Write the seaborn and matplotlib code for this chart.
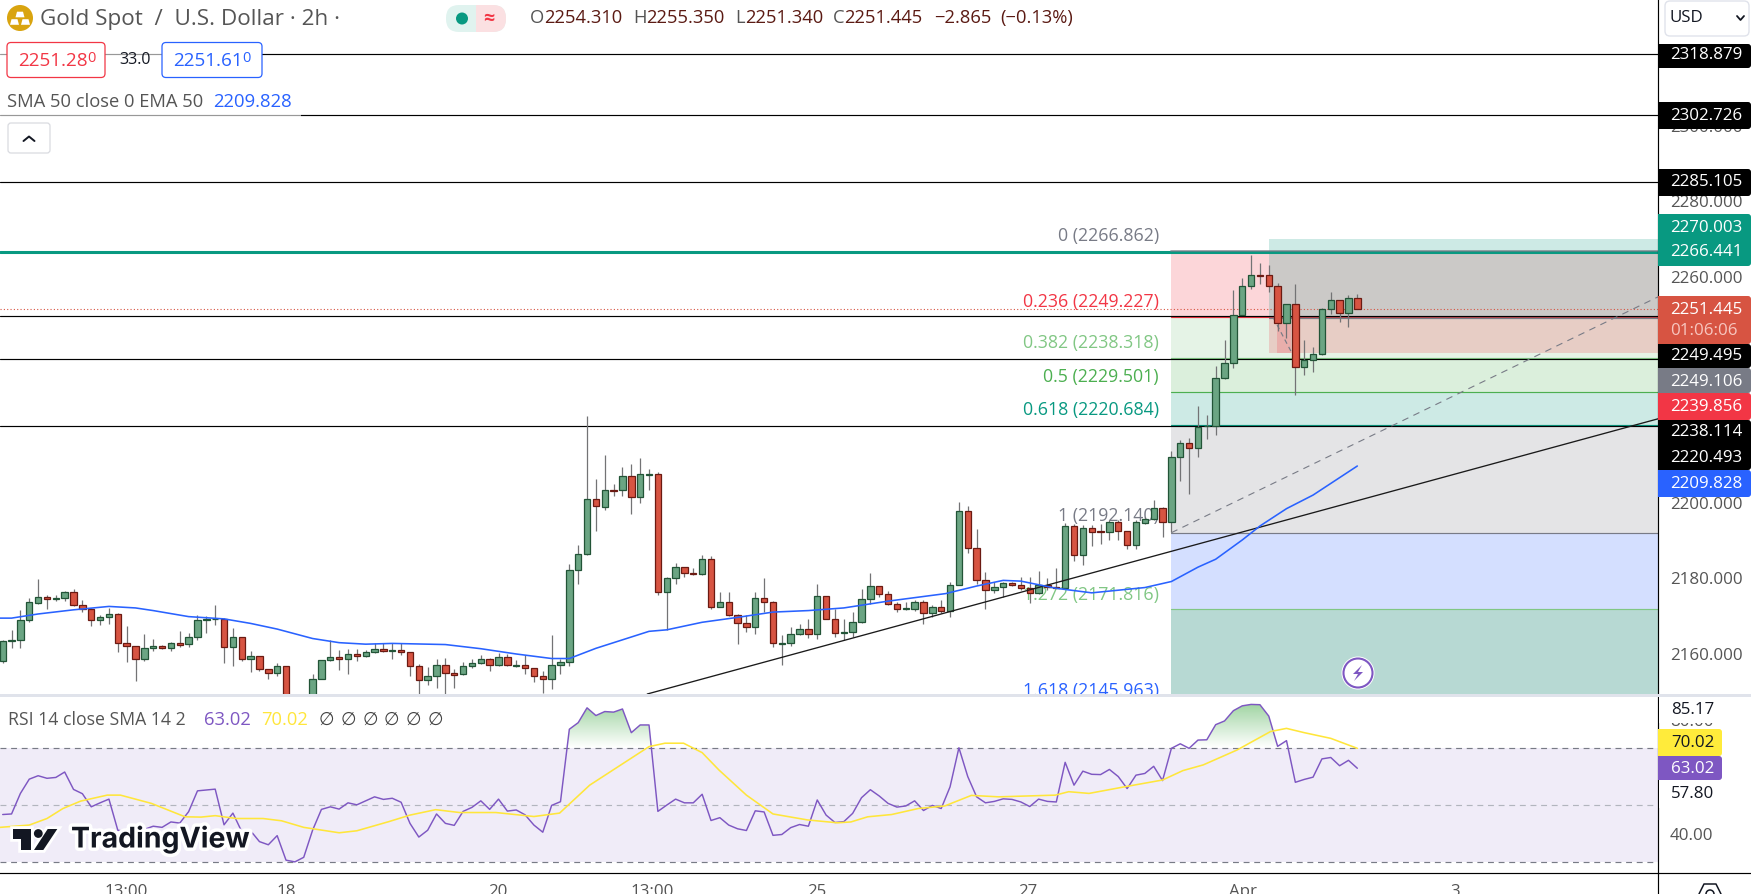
"""Gold Spot / U.S. Dollar 2h chart with fib levels, position tool and RSI pane."""

import numpy as np
import pandas as pd

import matplotlib
matplotlib.use("Agg")
import matplotlib.pyplot as plt
import matplotlib.patheffects as pe
from matplotlib.patches import Circle, FancyBboxPatch, PathPatch, Polygon, Rectangle
from matplotlib.path import Path
import seaborn as sns

# ── candles (price) ───────────────────────────────────────────────────
opens = [
    2158.2, 2163.5, 2163.6, 2168.9, 2173.6, 2175.0, 2174.5, 2174.7, 2176.3, 2172.9,
    2171.8, 2168.9, 2169.7, 2170.5, 2162.8, 2162.0, 2158.6, 2161.5, 2162.0, 2161.5,
    2162.8, 2162.6, 2164.4, 2169.1, 2169.3, 2169.4, 2161.8, 2164.4, 2158.8, 2159.4,
    2155.9, 2155.0, 2156.7, 2142.0, 2140.0, 2145.0, 2153.5, 2158.3, 2159.1, 2158.6,
    2159.9, 2159.4, 2160.4, 2161.2, 2160.9, 2161.0, 2160.4, 2156.7, 2153.0, 2154.1,
    2157.0, 2154.9, 2154.6, 2156.7, 2157.5, 2158.8, 2157.2, 2159.1, 2156.8, 2157.0,
    2156.2, 2154.3, 2153.3, 2157.0, 2157.8, 2182.2, 2186.4, 2201.0, 2199.0, 2203.5,
    2203.4, 2207.1, 2201.5, 2207.5, 2207.6, 2176.5, 2180.0, 2183.0, 2181.5, 2181.2,
    2185.1, 2172.5, 2173.7, 2170.2, 2168.1, 2167.2, 2174.7, 2173.9, 2162.7, 2163.0,
    2165.2, 2166.5, 2165.4, 2175.3, 2169.4, 2165.6, 2165.7, 2168.6, 2174.5, 2177.9,
    2175.8, 2173.2, 2171.8, 2172.0, 2173.9, 2170.8, 2172.4, 2171.5, 2178.4, 2197.8,
    2188.0, 2179.5, 2176.9, 2177.7, 2178.7, 2178.4, 2177.4, 2176.1, 2178.4, 2177.8,
    2177.4, 2193.8, 2186.1, 2193.5, 2192.6, 2192.4, 2194.9, 2192.5, 2189.0, 2194.8,
    2195.7, 2198.8, 2194.9, 2212.1, 2215.8, 2214.5, 2220.3, 2220.5, 2233.0, 2237.0,
    2249.9, 2257.4, 2260.4, 2260.3, 2257.4, 2247.8, 2252.6, 2235.9, 2238.0, 2239.4,
    2251.5, 2253.7, 2250.2, 2254.31,
]
highs = [
    2163.7, 2166.4, 2171.6, 2174.7, 2179.9, 2175.5, 2175.5, 2176.7, 2177.2, 2174.3,
    2172.1, 2170.3, 2172.2, 2170.8, 2167.4, 2162.2, 2165.3, 2164.0, 2162.5, 2163.1,
    2166.1, 2165.5, 2170.2, 2170.1, 2173.0, 2169.5, 2166.8, 2164.5, 2160.7, 2159.5,
    2156.1, 2157.5, 2156.8, 2146.0, 2147.0, 2154.7, 2158.4, 2163.7, 2161.0, 2161.3,
    2161.3, 2161.0, 2162.8, 2162.8, 2162.8, 2162.8, 2160.5, 2157.3, 2156.6, 2158.6,
    2158.9, 2155.9, 2157.9, 2158.6, 2159.6, 2158.9, 2160.2, 2160.0, 2158.4, 2159.6,
    2156.3, 2155.4, 2165.0, 2158.8, 2183.8, 2188.9, 2223.0, 2206.4, 2212.7, 2205.0,
    2209.6, 2210.2, 2211.8, 2209.0, 2208.2, 2180.5, 2184.0, 2183.1, 2182.9, 2186.2,
    2186.0, 2176.4, 2176.4, 2170.5, 2170.3, 2176.4, 2180.1, 2174.0, 2165.0, 2167.2,
    2167.9, 2169.4, 2178.5, 2175.4, 2171.8, 2169.3, 2171.1, 2177.1, 2181.5, 2178.0,
    2176.6, 2173.9, 2173.9, 2174.3, 2174.3, 2173.0, 2174.3, 2179.2, 2200.3, 2199.2,
    2193.1, 2181.6, 2179.2, 2179.2, 2179.1, 2180.3, 2180.3, 2182.0, 2180.0, 2182.9,
    2194.6, 2194.4, 2194.2, 2194.2, 2194.4, 2195.5, 2195.5, 2192.6, 2195.5, 2196.2,
    2200.8, 2198.9, 2213.8, 2216.7, 2217.1, 2225.7, 2223.3, 2236.3, 2243.2, 2256.4,
    2259.5, 2265.7, 2263.6, 2263.0, 2258.4, 2252.7, 2257.9, 2243.3, 2241.2, 2251.6,
    2255.8, 2253.8, 2255.0, 2255.35,
]
lows = [
    2157.7, 2161.7, 2161.7, 2168.6, 2173.3, 2171.9, 2174.1, 2174.1, 2172.8, 2171.1,
    2167.4, 2167.8, 2167.9, 2160.6, 2158.0, 2152.9, 2158.2, 2160.9, 2161.2, 2160.9,
    2161.9, 2161.9, 2163.7, 2165.6, 2167.8, 2157.7, 2156.9, 2158.2, 2155.3, 2155.6,
    2153.4, 2154.3, 2140.0, 2138.0, 2137.0, 2143.0, 2153.4, 2158.2, 2155.8, 2154.7,
    2158.2, 2159.3, 2160.3, 2160.5, 2158.8, 2159.8, 2154.2, 2149.1, 2151.8, 2151.0,
    2149.4, 2151.0, 2154.4, 2156.4, 2157.3, 2155.6, 2156.9, 2156.9, 2156.5, 2154.7,
    2152.6, 2149.7, 2150.8, 2154.7, 2156.9, 2178.5, 2186.3, 2192.7, 2198.1, 2201.8,
    2201.8, 2197.2, 2200.1, 2203.4, 2175.7, 2166.4, 2178.5, 2180.5, 2180.9, 2180.9,
    2172.0, 2172.4, 2170.0, 2162.7, 2165.9, 2165.4, 2171.2, 2161.9, 2157.1, 2162.1,
    2165.1, 2164.3, 2164.0, 2169.2, 2164.6, 2163.7, 2164.4, 2168.3, 2173.2, 2175.2,
    2173.0, 2171.0, 2171.6, 2171.5, 2167.9, 2169.9, 2170.8, 2169.8, 2178.3, 2186.8,
    2178.5, 2172.0, 2176.2, 2175.2, 2178.1, 2177.0, 2173.6, 2175.9, 2177.0, 2177.4,
    2177.2, 2184.7, 2183.7, 2188.7, 2189.1, 2190.2, 2190.2, 2187.7, 2187.7, 2194.4,
    2195.5, 2191.1, 2192.4, 2205.9, 2202.5, 2212.3, 2216.9, 2218.1, 2232.9, 2235.8,
    2249.8, 2256.7, 2258.0, 2256.0, 2245.5, 2243.8, 2228.7, 2234.0, 2234.7, 2239.2,
    2250.0, 2248.0, 2246.7, 2251.34,
]
closes = [
    2163.4, 2163.7, 2168.9, 2173.7, 2175.0, 2174.5, 2174.7, 2176.3, 2172.9, 2171.8,
    2168.9, 2169.7, 2170.5, 2162.8, 2162.0, 2158.6, 2161.5, 2162.0, 2161.5, 2162.8,
    2162.5, 2164.4, 2168.9, 2169.3, 2169.4, 2161.8, 2164.4, 2158.8, 2159.4, 2155.9,
    2155.0, 2156.7, 2142.0, 2140.0, 2145.0, 2153.5, 2158.3, 2159.1, 2158.6, 2159.9,
    2159.4, 2160.4, 2161.2, 2160.7, 2161.1, 2160.4, 2156.7, 2153.0, 2154.1, 2157.0,
    2154.9, 2154.5, 2156.7, 2157.5, 2158.8, 2157.2, 2159.1, 2157.0, 2157.0, 2156.2,
    2154.3, 2153.3, 2157.0, 2157.8, 2182.2, 2186.4, 2201.0, 2199.1, 2203.4, 2203.3,
    2207.1, 2201.5, 2207.6, 2207.6, 2176.5, 2180.0, 2183.0, 2181.4, 2181.3, 2185.1,
    2172.5, 2173.7, 2170.2, 2168.1, 2167.2, 2174.7, 2173.9, 2162.8, 2163.0, 2165.2,
    2166.5, 2165.4, 2175.3, 2169.4, 2165.5, 2165.8, 2168.6, 2174.5, 2177.9, 2175.8,
    2173.2, 2171.8, 2172.1, 2173.9, 2170.8, 2172.4, 2171.5, 2178.4, 2197.8, 2188.0,
    2179.5, 2176.9, 2177.7, 2178.7, 2178.4, 2177.4, 2176.1, 2178.4, 2177.7, 2177.5,
    2193.8, 2186.1, 2193.5, 2192.4, 2192.4, 2194.9, 2192.5, 2189.0, 2194.9, 2195.7,
    2198.8, 2194.9, 2212.1, 2215.8, 2214.5, 2220.2, 2220.5, 2233.0, 2237.0, 2249.9,
    2257.4, 2260.3, 2260.2, 2257.4, 2247.8, 2252.6, 2235.9, 2238.0, 2239.4, 2251.5,
    2253.7, 2250.2, 2254.2, 2251.445,
]

# EMA 50, read at the points where the curve bends
ema_bars = [-0.3, 1, 4, 8, 12, 15, 17, 21, 25, 28, 31, 35, 38, 41, 44, 50, 54, 58, 62, 64,
            67, 73, 75, 79, 83, 87, 91, 95, 100, 106.5, 110, 113, 115, 119, 123, 129,
            132, 135, 137, 140, 142, 145, 148, 153]
ema_vals = [2169.5, 2169.5, 2170.6, 2171.7, 2172.6, 2172.2, 2171.5, 2169.9, 2169.3, 2168.1,
            2166.6, 2164.1, 2163.0, 2162.6, 2162.8, 2162.5, 2161.4, 2160.0, 2158.8, 2158.8,
            2161.5, 2166.0, 2166.4, 2168.4, 2169.7, 2171.1, 2171.5, 2172.2, 2174.0, 2176.0,
            2178.0, 2179.5, 2179.3, 2177.4, 2176.2, 2177.6, 2179.2, 2183.0, 2185.1, 2190.2,
            2193.9, 2198.5, 2202.1, 2209.8]

# RSI per bar, and its SMA at the bends
rsi_vals = [
    46.8, 47.0, 54.2, 59.2, 60.4, 59.5, 59.8, 61.7, 55.6, 54.1,
    49.5, 50.9, 52.2, 41.3, 40.8, 40.8, 41.6, 42.7, 42.3, 44.2,
    43.8, 47.8, 55.1, 55.4, 55.7, 43.2, 47.3, 40.8, 41.1, 37.3,
    36.2, 39.4, 30.8, 30.2, 31.8, 41.3, 48.6, 49.5, 48.7, 50.9,
    50.2, 51.6, 53.0, 52.1, 52.5, 51.1, 43.7, 38.9, 41.3, 47.0,
    43.7, 43.0, 47.9, 49.3, 51.6, 48.6, 52.2, 48.0, 48.4, 46.7,
    43.1, 40.6, 50.0, 51.3, 76.7, 79.0, 84.2, 81.5, 82.9, 82.7,
    83.8, 75.5, 78.2, 78.2, 47.9, 50.1, 52.2, 50.9, 50.9, 53.9,
    44.7, 45.7, 43.1, 41.8, 41.2, 48.1, 47.7, 39.5, 39.8, 42.2,
    43.3, 42.7, 51.9, 46.6, 44.0, 44.3, 47.2, 52.7, 55.5, 53.3,
    50.7, 49.4, 49.8, 51.6, 48.2, 50.0, 48.9, 56.5, 70.2, 60.1,
    53.0, 50.9, 51.4, 52.3, 52.1, 51.2, 49.6, 52.2, 51.4, 51.2,
    65.1, 57.1, 62.0, 60.9, 60.8, 62.6, 60.1, 55.9, 60.6, 61.2,
    63.7, 58.7, 70.0, 71.6, 70.0, 72.9, 73.0, 78.3, 79.6, 83.2,
    84.9, 85.4, 85.3, 81.3, 70.7, 72.7, 58.1, 59.1, 59.9, 66.3,
    66.8, 63.9, 65.8, 63.02,
]
sma_bars = [-0.3, 3, 5, 6.8, 8.8, 11.8, 13.3, 16.8, 20.6, 22.4, 24, 26.4, 29.4, 31.5, 34,
            38, 40, 43.6, 46, 48.9, 51.6, 55.7, 60, 62.9, 66.3, 73, 74.8, 76.9, 79, 80.9,
            84, 87, 90.9, 94.3, 95.8, 97.7, 100.4, 103.4, 106.4, 109.4, 112.5, 118.9,
            120.4, 122.7, 126.5, 131, 133.3, 135.6, 139.4, 143.2, 145, 147, 150, 153]
sma_vals = [42.3, 43.1, 45.4, 48.9, 51.5, 53.6, 53.6, 50.7, 46.0, 45.9, 46.4, 45.4, 45.4,
            44.6, 42.3, 40.4, 41.1, 44.3, 46.6, 48.5, 47.5, 47.5, 46.1, 47.3, 57.1, 70.6,
            71.8, 71.8, 68.5, 62.4, 53.6, 47.0, 44.9, 43.9, 44.2, 46.0, 46.8, 48.9, 49.8,
            53.5, 53.0, 53.6, 54.8, 54.2, 56.4, 58.9, 62.2, 64.2, 69.4, 75.9, 77.0, 75.5,
            73.5, 70.0]

# drawn levels
black_levels = [2318.879, 2302.726, 2285.105, 2249.495, 2238.114, 2220.493]
teal_level = 2266.441
last_price = 2251.445
pos_top, pos_entry, pos_stop = 2270.003, 2249.106, 2239.856
trend_bars, trend_prices = [72.8, 186.96], [2149.4, 2222.3]
diag_bars, diag_prices = [132, 186.96], [2192.14, 2254.6]

fib_ratios = ["0", "0.236", "0.382", "0.5", "0.618", "1", "1.272", "1.618"]
fib_prices = [2266.862, 2249.227, 2238.318, 2229.501, 2220.684, 2192.140, 2171.816, 2145.963]
fib_colors = ["#787b86", "#f23645", "#81c784", "#4caf50", "#089981", "#787b86", "#81c784", "#2962ff"]
fib_fills = ["#f23645", "#81c784", "#4caf50", "#089981", "#787b86", "#2962ff", "#1f8a76"]
fib_label_y = [236, 302, 343, 377, 410, 516, 595, 691]

x_tick_bars = [13.9, 32, 55.9, 73.3, 92, 115.8, 140.1, 164]
x_tick_labels = ["13:00", "18", "20", "13:00", "25", "27", "Apr", "3"]

price_ticks = [2160, 2180, 2200, 2220, 2240, 2260, 2280, 2300, 2320]
rsi_ticks = [40, 60, 80]

W, H = 1751, 894
UP, UP_EDGE = "#6ba583", "#225437"
DOWN, DOWN_EDGE = "#d75442", "#6b1a12"
WICK = "#737375"
TICK_GREY = "#555555"
FIB_START = 132
POS_START = 143
XLIM = (-0.305, 186.96)
THIN = 0.85

sns.set_theme(style="white")
plt.rcParams["font.family"] = ["Open Sans", "DejaVu Sans"]

df = pd.DataFrame({"o": opens, "h": highs, "l": lows, "c": closes, "rsi": rsi_vals})
df["bar"] = np.arange(len(df))
up = df["c"] >= df["o"]

fig = plt.figure(figsize=(W / 100, H / 100), dpi=100, facecolor="white")
ax = fig.add_axes([0, 1 - 694 / H, 1658 / W, 694 / H])
ax_rsi = fig.add_axes([0, 1 - 873 / H, 1658 / W, (873 - 697) / H])
over = fig.add_axes([0, 0, 1, 1], zorder=10)
over.set_xlim(0, W)
over.set_ylim(H, 0)
over.axis("off")
over.patch.set_alpha(0)

# ── price pane ────────────────────────────────────────────────────────
span = [FIB_START, XLIM[1]]
for i, col in enumerate(fib_fills):
    alpha = 0.32 if i == 6 else 0.2
    ax.fill_between(span, fib_prices[i + 1], fib_prices[i], color=col, alpha=alpha, lw=0, zorder=1)
for price, col in zip(fib_prices, fib_colors):
    ax.plot(span, [price, price], color=col, lw=THIN, zorder=2)

# position tool sits over the fib bands
pos_span = [POS_START, XLIM[1]]
ax.fill_between(pos_span, pos_entry, pos_top, color="#089981", alpha=0.2, lw=0, zorder=2)
ax.fill_between(pos_span, pos_stop, pos_entry, color="#f23645", alpha=0.2, lw=0, zorder=2)
ax.fill_between([143.9, 145.5], pos_stop, pos_entry, color="#f23645", alpha=0.2, lw=0, zorder=2)
ax.plot(pos_span, [pos_entry, pos_entry], color="#787b86", lw=THIN, zorder=2.1)
ax.plot([143.5, 146], [pos_entry, 2238.0], color="#787b86", lw=THIN, ls=(0, (4, 3)), zorder=2.1)

ax.axhline(teal_level, color="#089981", lw=2.2, zorder=2)
ax.plot(span, [fib_prices[0], fib_prices[0]], color="#787b86", lw=1.3, alpha=0.7, zorder=2.2)
for lvl in black_levels:
    ax.axhline(lvl, color="black", lw=THIN, zorder=2.3)
ax.axhline(last_price, color=DOWN, lw=0.8, ls=(0, (1, 2)), zorder=2.3)

sns.lineplot(x=diag_bars, y=diag_prices, ax=ax, color="#787b86", lw=0.8, linestyle=(0, (6, 5)),
             estimator=None, legend=False, zorder=2.4)

ax.vlines(df["bar"], df["l"], df["h"], color=WICK, lw=0.9, zorder=3)
ax.bar(df["bar"][up], (df["c"] - df["o"])[up], bottom=df["o"][up], width=0.72,
       color=UP, edgecolor=UP_EDGE, lw=0.9, zorder=4)
ax.bar(df["bar"][~up], (df["o"] - df["c"])[~up], bottom=df["c"][~up], width=0.72,
       color=DOWN, edgecolor=DOWN_EDGE, lw=0.9, zorder=4)

sns.lineplot(x=trend_bars, y=trend_prices, ax=ax, color="#1a1a1a", lw=0.95,
             estimator=None, legend=False, zorder=5)
sns.lineplot(x=ema_bars, y=ema_vals, ax=ax, color="#2962ff", lw=1.15,
             estimator=None, legend=False, zorder=6)

ax.set_xlim(*XLIM)
ax.set_ylim(2149.4, 2333.25)
ax.set_xticks([])
ax.set_xlabel("")
ax.set_ylabel("")
ax.yaxis.tick_right()
ax.set_yticks(price_ticks)
ax.set_yticklabels([f"{p:.3f}" for p in price_ticks], fontsize=12.2, color=TICK_GREY)
ax.tick_params(axis="y", length=0, pad=8.6)
for side in ("top", "left", "bottom"):
    ax.spines[side].set_visible(False)
ax.spines["right"].set_color("black")
ax.spines["right"].set_linewidth(THIN)

# ── RSI pane ──────────────────────────────────────────────────────────
ax_rsi.fill_between([XLIM[0], XLIM[1]], 30, 70, color="#7e57c2", alpha=0.11, lw=0, zorder=1)
for lvl, col in zip([70, 50, 30], ["#787b86", "#b2b5be", "#787b86"]):
    ax_rsi.axhline(lvl, color=col, lw=0.85, ls=(0, (5, 4)), zorder=2)

rsi_arr = df["rsi"].to_numpy()
over_fill = ax_rsi.fill_between(df["bar"], 70, rsi_arr, where=rsi_arr >= 70, interpolate=True,
                                color="none", lw=0)
grad = np.zeros((64, 2, 4))
grad[..., :3] = matplotlib.colors.to_rgb("#4caf50")
grad[..., 3] = np.linspace(0.55, 0.0, 64)[:, None]
im = ax_rsi.imshow(grad, extent=[XLIM[0], XLIM[1], 70, 86], aspect="auto", zorder=2.5)
clip = Path.make_compound_path(*over_fill.get_paths())
im.set_clip_path(PathPatch(clip, transform=ax_rsi.transData))

sns.lineplot(x=df["bar"], y=df["rsi"], ax=ax_rsi, color="#7e57c2", lw=1.05,
             estimator=None, legend=False, zorder=3)
sns.lineplot(x=sma_bars, y=sma_vals, ax=ax_rsi, color="#ffe63b", lw=1.15,
             estimator=None, legend=False, zorder=4)

ax_rsi.set_xlim(*XLIM)
ax_rsi.set_ylim(26.3, 88.0)
ax_rsi.set_xlabel("")
ax_rsi.set_ylabel("")
ax_rsi.yaxis.tick_right()
ax_rsi.set_yticks(rsi_ticks)
ax_rsi.set_yticklabels([f"{v:.2f}" for v in rsi_ticks], fontsize=12.2, color=TICK_GREY)
ax_rsi.set_xticks(x_tick_bars)
ax_rsi.set_xticklabels(x_tick_labels, fontsize=12.2, color=TICK_GREY)
ax_rsi.tick_params(axis="y", length=0, pad=8.6)
ax_rsi.tick_params(axis="x", length=0, pad=8)
for side in ("top", "left"):
    ax_rsi.spines[side].set_visible(False)
for side in ("right", "bottom"):
    ax_rsi.spines[side].set_color("black")
    ax_rsi.spines[side].set_linewidth(THIN)
over.plot([1658, W], [873, 873], color="black", lw=THIN)
over.plot([1658, 1658], [873, H], color="black", lw=THIN)


# ── texts and chrome, placed in figure pixels ─────────────────────────
def label(x, y, s, color="#131722", size=12.2, ha="left", **kw):
    return over.text(x, y, s, color=color, fontsize=size, ha=ha, va="center", **kw)


def badge(y0, y1, color, lines, x1=W, tx=1670):
    over.add_patch(FancyBboxPatch((1658, y0), x1 - 1658, y1 - y0, boxstyle="round,pad=0,rounding_size=3",
                                  fc=color, ec="none", zorder=3))
    over.add_patch(Rectangle((1658, y0), 10, y1 - y0, fc=color, ec="none", zorder=3))
    for y, s, col in lines:
        label(tx, y, s, color=col, zorder=4)


# fib labels go under the candles, so they belong to the price axes
for ratio, price, col, y in zip(fib_ratios, fib_prices, fib_colors, fib_label_y):
    ax.text(1159, y, f"{ratio} ({price:.3f})", transform=over.transData, color=col, fontsize=12.8,
            ha="right", va="center", zorder=2.6, clip_on=True)

over.add_patch(Rectangle((0, 694), W, 3, fc="#e0e3eb", ec="none"))

# right hand price tags
badge(44, 68, "black", [(55, "2318.879", "white")])
badge(102, 129, "black", [(115.5, "2302.726", "white")])
badge(169, 196, "black", [(182.5, "2285.105", "white")])
badge(214, 266, "#089981", [(228, "2270.003", "white"), (252.5, "2266.441", "white")])
badge(296, 344, "#d75442", [(310, "2251.445", "white"), (331, "01:06:06", "#f7c6bf")])
badge(344, 368, "black", [(356, "2249.495", "white")])
badge(368, 393, "#787b86", [(382, "2249.106", "white")])
badge(393, 420, "#f23645", [(407, "2239.856", "white")])
badge(420, 470, "black", [(432.5, "2238.114", "white"), (458, "2220.493", "white")])
badge(470, 497, "#2962ff", [(484, "2209.828", "white")])

# RSI tags
over.add_patch(Rectangle((1659, 697), 80, 26, fc="white", ec="none", zorder=2))
over.add_patch(Rectangle((1659, 780), 80, 28, fc="white", ec="none", zorder=2))
label(1671, 710, "85.17", zorder=4)
label(1671, 794, "57.80", zorder=4)
badge(729, 756, "#ffeb3b", [(743, "70.02", "#131722")], x1=1722, tx=1671)
badge(756, 780, "#7e57c2", [(769, "63.02", "white")], x1=1722, tx=1671)

# USD selector
over.add_patch(FancyBboxPatch((1665, 1), 84, 35, boxstyle="round,pad=0,rounding_size=5",
                              fc="white", ec="#e0e3eb", lw=1))
label(1669, 18, "USD", size=12.2)
over.plot([1737, 1740.5, 1744], [16, 20, 16], color="#131722", lw=1.3)

# header
over.add_patch(Circle((20, 18), 13, fc="#d9a40f", ec="none"))
for cx, cy in [(20, 14.5), (14.5, 22), (25.5, 22)]:
    over.add_patch(Polygon([(cx - 4.5, cy + 2.8), (cx + 4.5, cy + 2.8), (cx + 3, cy - 2.8), (cx - 3, cy - 2.8)],
                           fc="white", ec="none"))
label(40, 19, "Gold Spot  /  U.S. Dollar · 2h ·", color="#555555", size=16.2)

over.add_patch(FancyBboxPatch((446, 5), 60, 27, boxstyle="round,pad=0,rounding_size=13",
                              fc="#e0f3ef", ec="none"))
over.add_patch(FancyBboxPatch((476, 5), 30, 27, boxstyle="round,pad=0,rounding_size=13",
                              fc="#fbe0e2", ec="none"))
over.add_patch(Rectangle((476, 5), 14, 27, fc="#fbe0e2", ec="none"))
over.add_patch(Circle((462, 18.5), 6, fc="#089981", ec="none"))
label(489, 18.5, "≈", color="#f23645", size=14, ha="center", fontweight="bold")

OHLC_COL = "#5b1a13"
for x, letter, val in [(530, "O", "2254.310"), (633, "H", "2255.350"),
                       (735, "L", "2251.340"), (833, "C", "2251.445")]:
    t = label(x, 18, letter, color="#555555", size=13.2)
    over.annotate(val, xy=(1, 0.5), xycoords=t, va="center", ha="left", color=OHLC_COL, fontsize=13.2)
label(934.5, 18, "−2.865", color=OHLC_COL, size=13.2)
label(1000, 18, "(−0.13%)", color=OHLC_COL, size=13.2)

# legend veil over the black lines, then bid / ask boxes
over.add_patch(Rectangle((0, 40), 262, 40, fc="white", ec="none", alpha=0.6, zorder=1))
over.add_patch(Rectangle((0, 92), 301, 30, fc="white", ec="none", alpha=0.6, zorder=1))
for x0, x1, col, val in [(7, 105, "#f23645", "2251.28"), (162, 262, "#2962ff", "2251.61")]:
    over.add_patch(FancyBboxPatch((x0, 42.5), x1 - x0, 35, boxstyle="round,pad=0,rounding_size=4",
                                  fc="white", ec=col, lw=0.9, zorder=2))
    t = label(x0 + 11, 61, val, color=col, size=13.6, zorder=3)
    over.annotate("0", xy=(1, 0.62), xycoords=t, va="center", ha="left", color=col, fontsize=10.5, zorder=3)
label(135, 60, "33.0", size=11.5, ha="center", zorder=3)

label(7, 102, "SMA 50 close 0 EMA 50", color="#555555", size=13.2, zorder=3)
label(213, 102, "2209.828", color="#2962ff", size=13.3, zorder=3)

over.add_patch(FancyBboxPatch((8, 123), 42, 30, boxstyle="round,pad=0,rounding_size=3",
                              fc="white", ec="#d9dbe0", lw=0.9))
over.plot([23.5, 29, 34.5], [141, 136.5, 141], color="#131722", lw=1.4)

# RSI legend
label(8, 720, "RSI 14 close SMA 14 2", color="#555555", size=12.7)
label(204, 720, "63.02", color="#7e57c2", size=13.2)
label(261, 720, "70.02", color="#ffe63b", size=13.2)
for k in range(6):
    label(319 + 21.7 * k, 720, "∅", color="#444444", size=12.8)

# TradingView mark, halo first and the solid shapes on top
logo_col = "#131722"
logo_shapes = [
    [(12.7, 829), (30.7, 829), (30.7, 850), (20.7, 850), (20.7, 838.5), (12.7, 838.5)],
    [(47.7, 829), (57.3, 829), (43.3, 850), (34, 850)],
]
for pts in logo_shapes:
    over.add_patch(Polygon(pts, fc="white", ec="white", lw=4))
over.add_patch(Circle((38.3, 833.5), 6, fc="white", ec="none"))
for pts in logo_shapes:
    over.add_patch(Polygon(pts, fc=logo_col, ec="none"))
over.add_patch(Circle((38.3, 833.5), 4.4, fc=logo_col, ec="none"))
label(71, 839.5, "TradingView", color=logo_col, size=20.5, fontweight="bold",
      path_effects=[pe.withStroke(linewidth=5, foreground="white")], family="Inter")

# lightning button on the price pane
over.add_patch(Circle((1358, 673), 16.5, fc="white", ec="none", zorder=7))
over.add_patch(Circle((1358, 673), 14.5, fc="white", ec="#7e57c2", lw=1.5, zorder=8))
over.add_patch(Polygon([(1362, 665), (1353, 674), (1358, 674), (1354, 681), (1363, 672), (1358, 672)],
                       fc="#7e57c2", ec="none", zorder=9))

# settings gear poking up at the bottom right
over.plot([1699, 1704, 1716, 1721], [894, 884, 884, 894], color="#131722", lw=1.1)
over.add_patch(Circle((1710, 894), 4, fc="none", ec="#131722", lw=1.1))

fig.savefig("out.png", dpi=100, facecolor="white")
plt.close(fig)
